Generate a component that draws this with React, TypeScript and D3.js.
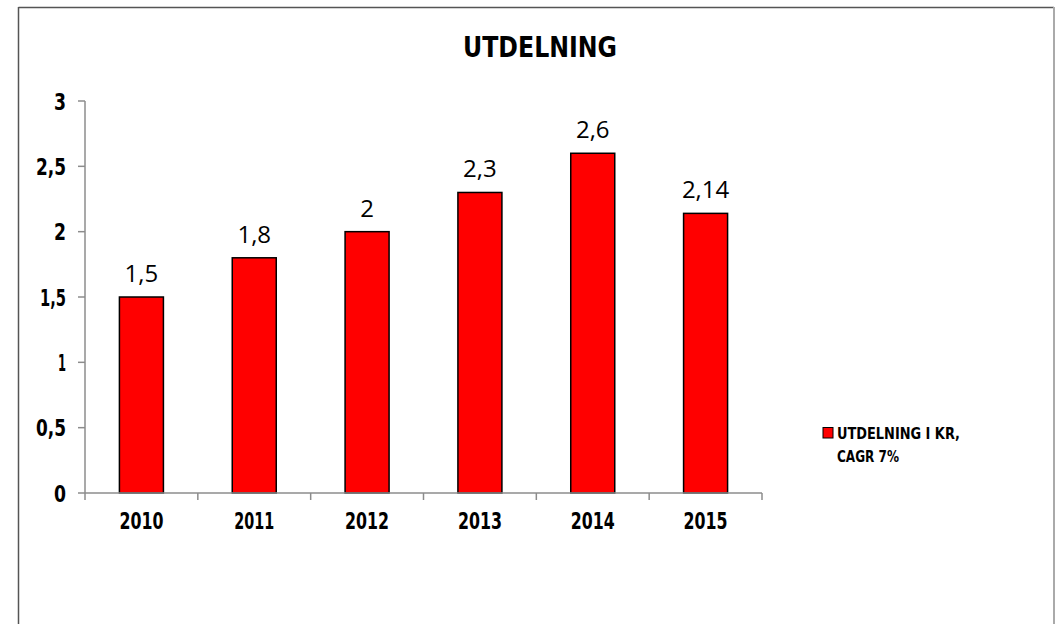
import React from "react";
import * as d3 from "d3";

const categories = ["2010", "2011", "2012", "2013", "2014", "2015"];
const values = [1.5, 1.8, 2, 2.3, 2.6, 2.14];
const valueLabels = ["1,5", "1,8", "2", "2,3", "2,6", "2,14"];
const yTicks = [0, 0.5, 1, 1.5, 2, 2.5, 3];
const yTickLabels = ["0", "0,5", "1", "1,5", "2", "2,5", "3"];
const title = "UTDELNING";
const legendLines = ["UTDELNING I KR,", "CAGR 7%"];

const W = 1059;
const H = 624;
const left = 85;
const right = 762;
const top = 101;
const bottom = 493;

const narrow = "'DejaVu Sans', sans-serif";
const regular = "'Open Sans', 'Liberation Sans', sans-serif";

export default function App() {
  const x = d3.scaleBand<string>().domain(categories).range([left, right]).paddingInner(0).paddingOuter(0);
  const y = d3.scaleLinear().domain([0, 3]).range([bottom, top]);
  const bw = x.bandwidth() * 0.39;
  const axisColor = "#8c8c8c";
  const tickLen = (s: string) => {
    let w = 0;
    for (const ch of s) w += ch === "," ? 6 : ch === "1" ? 8 : 12;
    return w;
  };

  return (
    <div style={{ position: "absolute", left: 0, top: 0 }}>
      <svg width={W} height={H} style={{ display: "block", background: "#fff" }}>
        {/* frame */}
        <line x1={18.5} y1={7.5} x2={1054} y2={7.5} stroke="#555" strokeWidth={1.5} />
        <line x1={18.5} y1={7} x2={18.5} y2={H} stroke="#555" strokeWidth={1.5} />
        <line x1={1054} y1={7} x2={1054} y2={H} stroke="#aaa" strokeWidth={2} />

        <text x={540} y={57} textAnchor="middle" fontFamily={narrow} fontWeight="bold" fontStretch="condensed" fontSize={28}
          textLength={154} lengthAdjust="spacingAndGlyphs" fill="#000">{title}</text>

        {/* y axis */}
        <line x1={left} y1={top} x2={left} y2={bottom} stroke={axisColor} strokeWidth={1.5} />
        {yTicks.map((t, i) => (
          <g key={"yt" + i}>
            <line x1={left - 7} x2={left} y1={y(t)} y2={y(t)} stroke={axisColor} strokeWidth={1.5} />
            <text x={66} y={y(t) + 8.5} textAnchor="end" fontFamily={narrow} fontWeight="bold" fontStretch="condensed" fontSize={23}
              textLength={tickLen(yTickLabels[i])} lengthAdjust="spacingAndGlyphs"
              fill="#000">{yTickLabels[i]}</text>
          </g>
        ))}

        {/* bars */}
        {categories.map((c, i) => {
          const cx = (x(c) as number) + x.bandwidth() / 2;
          return (
            <g key={c}>
              <rect x={cx - bw / 2} y={y(values[i])} width={bw} height={bottom - y(values[i])}
                fill="#ff0000" stroke="#000" strokeWidth={1.5} />
              <text x={cx} y={y(values[i]) - 15} textAnchor="middle" fontFamily={regular} fontSize={24}
                fill="#000">{valueLabels[i]}</text>
              <text x={cx} y={529} textAnchor="middle" fontFamily={narrow} fontWeight="bold" fontStretch="condensed" fontSize={23}
                textLength={tickLen(c)} lengthAdjust="spacingAndGlyphs" fill="#000">{c}</text>
            </g>
          );
        })}

        {/* x axis */}
        <line x1={left} y1={bottom} x2={right} y2={bottom} stroke={axisColor} strokeWidth={1.5} />
        {[...categories.map((c) => x(c) as number), right].map((v, i) => (
          <line key={"xt" + i} x1={v} x2={v} y1={bottom} y2={bottom + 7} stroke={axisColor} strokeWidth={1.5} />
        ))}

        {/* legend */}
        <rect x={823} y={427.5} width={10} height={10.5} fill="#ff0000" stroke="#000" strokeWidth={1} />
        <text x={837} y={439} fontFamily={narrow} fontWeight="bold" fontStretch="condensed" fontSize={16} fill="#000"
          textLength={123} lengthAdjust="spacingAndGlyphs">{legendLines[0]}</text>
        <text x={837} y={462} fontFamily={narrow} fontWeight="bold" fontStretch="condensed" fontSize={16} fill="#000"
          textLength={62} lengthAdjust="spacingAndGlyphs">{legendLines[1]}</text>
      </svg>
    </div>
  );
}
